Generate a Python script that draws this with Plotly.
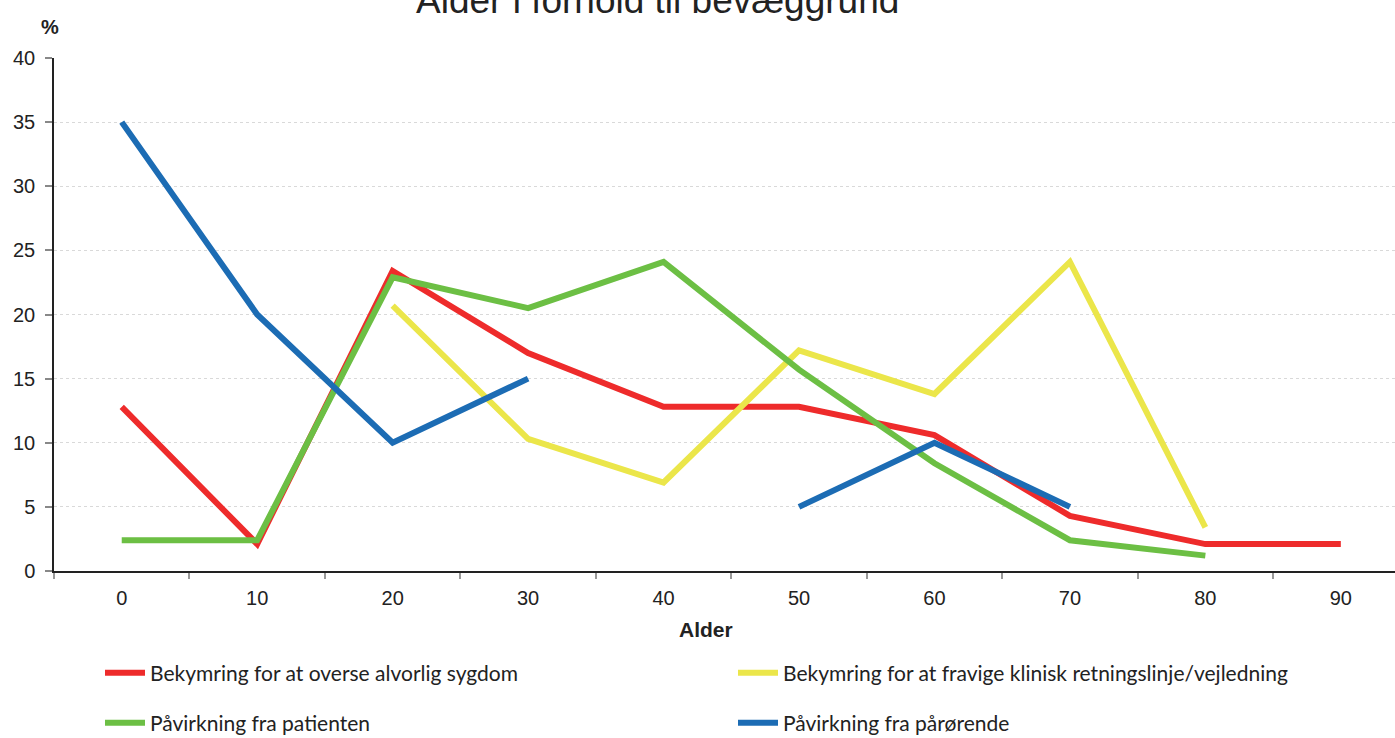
import plotly.graph_objects as go

# Age groups on the x axis
ages = [0, 10, 20, 30, 40, 50, 60, 70, 80, 90]

# Share (%) per age group for each motive; None = no observation
alvorlig_sygdom = [12.8, 2.1, 23.4, 17.0, 12.8, 12.8, 10.6, 4.3, 2.1, 2.1]
fravige_retningslinje = [None, None, 20.7, 10.3, 6.9, 17.2, 13.8, 24.1, 3.4, None]
paavirkning_patient = [2.4, 2.4, 22.9, 20.5, 24.1, 15.7, 8.4, 2.4, 1.2, None]
paavirkning_paaroerende = [35.0, 20.0, 10.0, 15.0, None, 5.0, 10.0, 5.0, None, None]

# name, values, colour, legend id
series = [
    ("Bekymring for at overse alvorlig sygdom", alvorlig_sygdom, "#EE2B2B", "legend"),
    ("Bekymring for at fravige klinisk retningslinje/vejledning", fravige_retningslinje, "#EBE64A", "legend2"),
    ("Påvirkning fra patienten", paavirkning_patient, "#6CBF44", "legend3"),
    ("Påvirkning fra pårørende", paavirkning_paaroerende, "#1C6CB4", "legend4"),
]

y_ticks = [0, 5, 10, 15, 20, 25, 30, 35, 40]

W, H = 1395, 738
L, R, T, B = 54, 0, 58, 167
PW, PH = W - L - R, H - T - B


def px_x(px):
    return (px - L) / PW


def px_y(py):
    return (H - B - py) / PH


fig = go.Figure()
for name, values, color, leg in series:
    fig.add_trace(go.Scatter(
        x=ages, y=values, name=name, mode="lines",
        line=dict(color=color, width=6),
        connectgaps=False, legend=leg,
    ))

axis_font = dict(family="Arial, Liberation Sans, sans-serif", size=20, color="#222222")
legend_font = dict(family="Lato, Carlito, sans-serif", size=21, color="#222222")


def legend_box(x_px, y_px):
    # one legend entry per box, laid out as a 2x2 grid under the plot
    return dict(
        orientation="h", x=x_px / W, xref="container", xanchor="left",
        y=1 - y_px / H, yref="container", yanchor="middle",
        font=legend_font, itemwidth=40, bgcolor="rgba(0,0,0,0)",
    )


fig.update_layout(
    width=W, height=H,
    margin=dict(l=L, r=R, t=T, b=B),
    plot_bgcolor="white", paper_bgcolor="white",
    xaxis=dict(
        range=[-5, 94], tickvals=ages, ticktext=[str(a) for a in ages],
        ticks="", showgrid=False, zeroline=False,
        showline=True, linecolor="#222222", linewidth=1.5,
        tickfont=axis_font, ticklabelstandoff=8,
        minor=dict(tick0=-5, dtick=10, ticks="outside", ticklen=6,
                   tickcolor="#999999", tickwidth=1.5, showgrid=False),
    ),
    yaxis=dict(
        range=[0, 40], tickvals=y_ticks, ticks="outside", ticklen=7,
        tickcolor="#888888", tickwidth=1.5,
        showgrid=True, gridcolor="#d9d9d9", griddash="dot", gridwidth=1,
        zeroline=False, showline=True, linecolor="#222222", linewidth=1.5,
        tickfont=axis_font, ticklabelstandoff=6,
    ),
    legend=legend_box(100, 673),
    legend2=legend_box(733, 673),
    legend3=legend_box(100, 723),
    legend4=legend_box(733, 723),
    showlegend=True,
)

fig.add_annotation(
    text="Alder i forhold til bevæggrund", xref="paper", yref="paper",
    x=px_x(657), y=px_y(14), xanchor="center", yanchor="bottom", yshift=-9,
    showarrow=False, font=dict(family="Arial, Liberation Sans, sans-serif", size=37, color="#222222"),
)
fig.add_annotation(
    text="<b>%</b>", xref="paper", yref="paper",
    x=px_x(50), y=px_y(27), xanchor="center", yanchor="middle",
    showarrow=False, font=dict(family="Arial, Liberation Sans, sans-serif", size=20, color="#222222"),
)
fig.add_annotation(
    text="<b>Alder</b>", xref="paper", yref="paper",
    x=px_x(706), y=px_y(629), xanchor="center", yanchor="middle",
    showarrow=False, font=dict(family="Arial, Liberation Sans, sans-serif", size=21, color="#222222"),
)

fig.write_html("out.html")
